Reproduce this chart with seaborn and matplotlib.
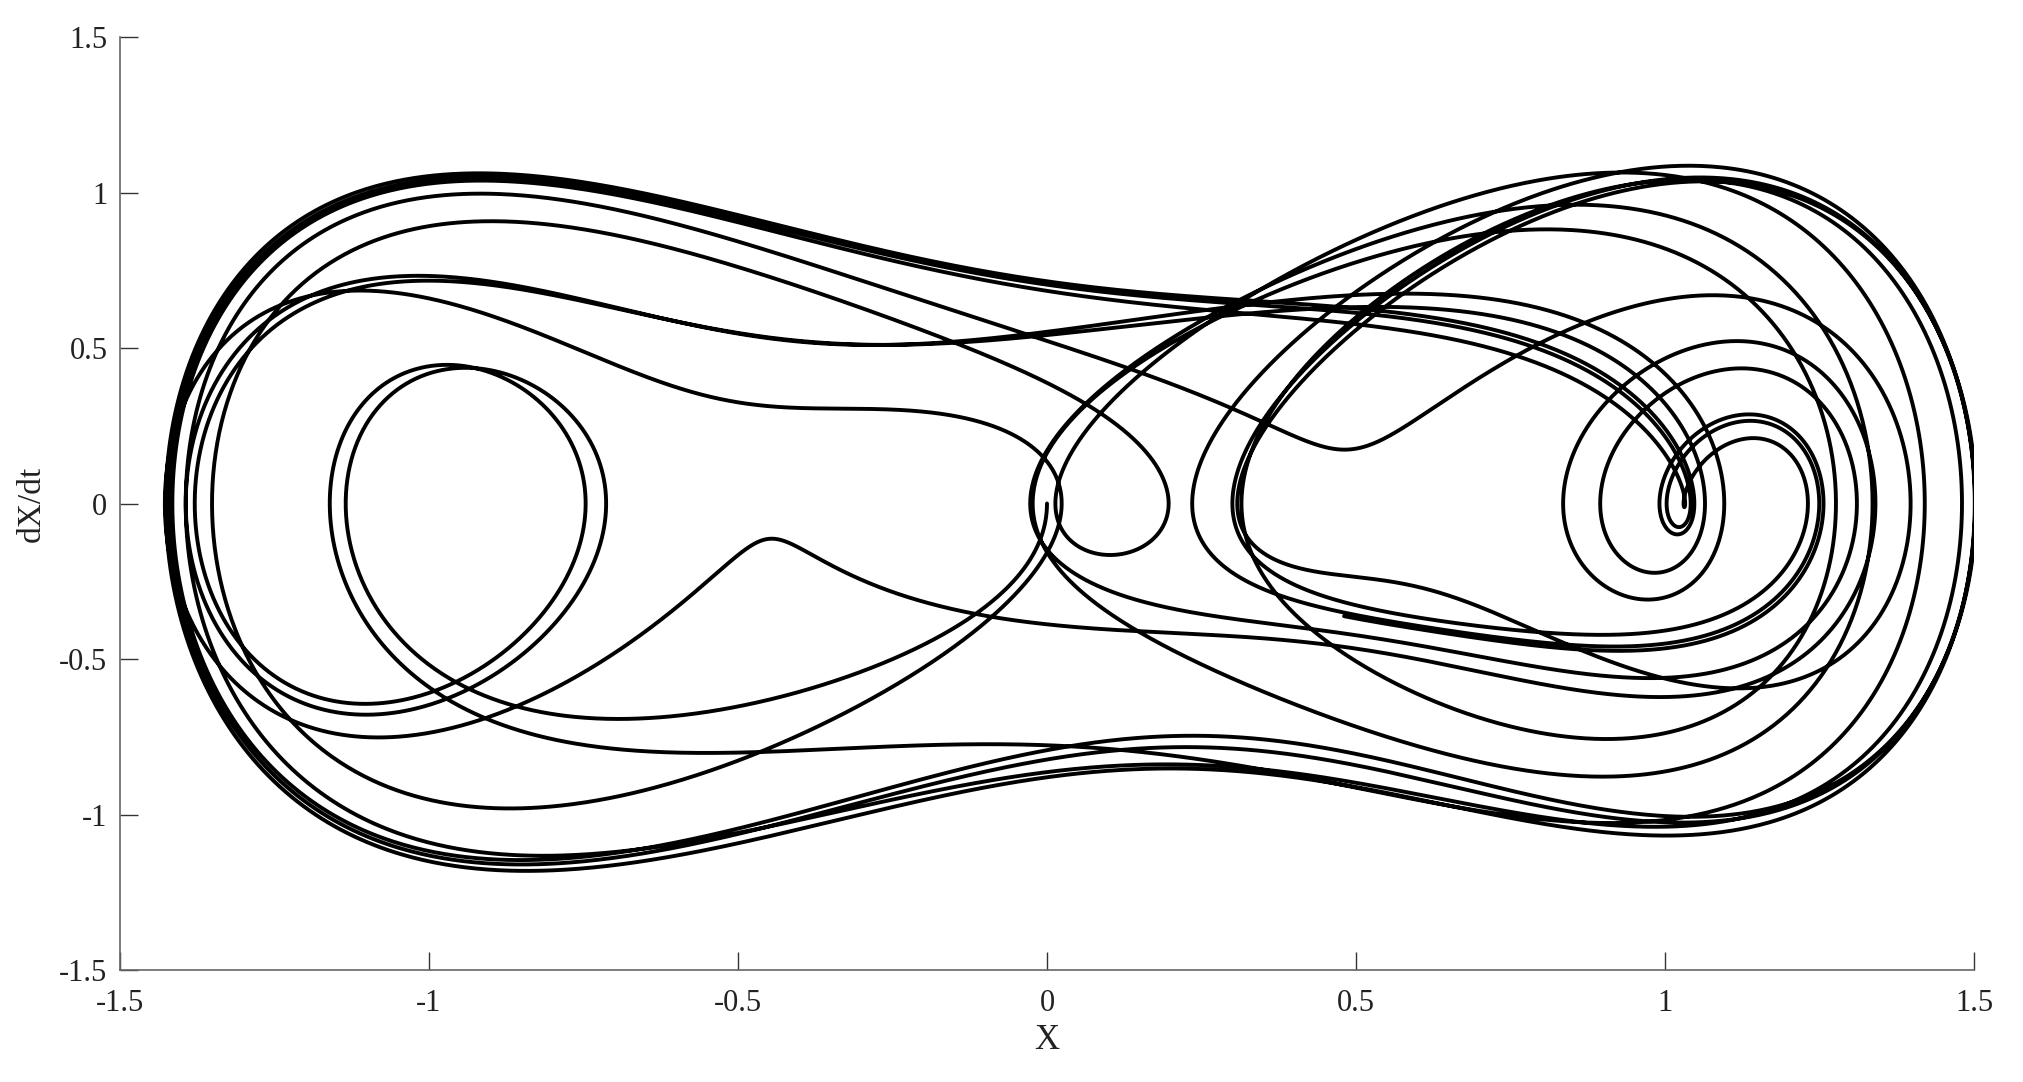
import numpy as np
import pandas as pd
import seaborn as sns
import matplotlib.pyplot as plt

# forced Duffing oscillator: x'' + delta*x' - k*x + k*x^3 = -gamma*cos(omega*t)
k = 1.6
delta = 0.38
gamma = 0.64
omega = 1.26
x0 = 0.0
v0 = 0.0
t_end = 120.0
dt = 0.005

x_ticks = [-1.5, -1, -0.5, 0, 0.5, 1, 1.5]
y_ticks = [-1.5, -1, -0.5, 0, 0.5, 1, 1.5]
x_ticklabels = ['-1.5', '-1', '-0.5', '0', '0.5', '1', '1.5']
y_ticklabels = ['-1.5', '-1', '-0.5', '0', '0.5', '1', '1.5']


def rhs(t, x, v):
    return v, -delta * v + k * x - k * x ** 3 - gamma * np.cos(omega * t)


def integrate():
    n = int(round(t_end / dt))
    xs = np.zeros(n + 1)
    vs = np.zeros(n + 1)
    x, v = x0, v0
    xs[0], vs[0] = x, v
    for i in range(n):
        t = i * dt
        a1, b1 = rhs(t, x, v)
        a2, b2 = rhs(t + dt / 2, x + dt / 2 * a1, v + dt / 2 * b1)
        a3, b3 = rhs(t + dt / 2, x + dt / 2 * a2, v + dt / 2 * b2)
        a4, b4 = rhs(t + dt, x + dt * a3, v + dt * b3)
        x = x + dt / 6 * (a1 + 2 * a2 + 2 * a3 + a4)
        v = v + dt / 6 * (b1 + 2 * b2 + 2 * b3 + b4)
        xs[i + 1], vs[i + 1] = x, v
    return pd.DataFrame({'t': np.arange(n + 1) * dt, 'X': xs, 'dXdt': vs})


df = integrate()

sns.set_style('ticks')
plt.rcParams['font.family'] = ['Liberation Serif', 'DejaVu Serif']

fig = plt.figure(figsize=(20.23, 10.82), dpi=100)
ax = fig.add_axes([0.0593, 0.1035, 0.9165, 0.8623])
sns.lineplot(data=df, x='X', y='dXdt', sort=False, estimator=None,
             color='black', linewidth=2.8, ax=ax)

ax.set_xlim(-1.5, 1.5)
ax.set_ylim(-1.5, 1.5)
ax.set_xticks(x_ticks)
ax.set_xticklabels(x_ticklabels)
ax.set_yticks(y_ticks)
ax.set_yticklabels(y_ticklabels)
ax.tick_params(direction='in', length=13, width=1, colors='#333333',
               labelsize=22, labelcolor='#222222')
ax.tick_params(axis='x', pad=14)
ax.tick_params(axis='y', pad=9)
for side in ['top', 'right']:
    ax.spines[side].set_visible(False)
for side in ['left', 'bottom']:
    ax.spines[side].set_color('#666666')
    ax.spines[side].set_linewidth(1.2)
ax.set_xlabel('X', fontsize=25, labelpad=4, color='#222222')
ax.set_ylabel('dX/dt', fontsize=24, labelpad=9, color='#222222')

fig.savefig('out.png', dpi=100)
